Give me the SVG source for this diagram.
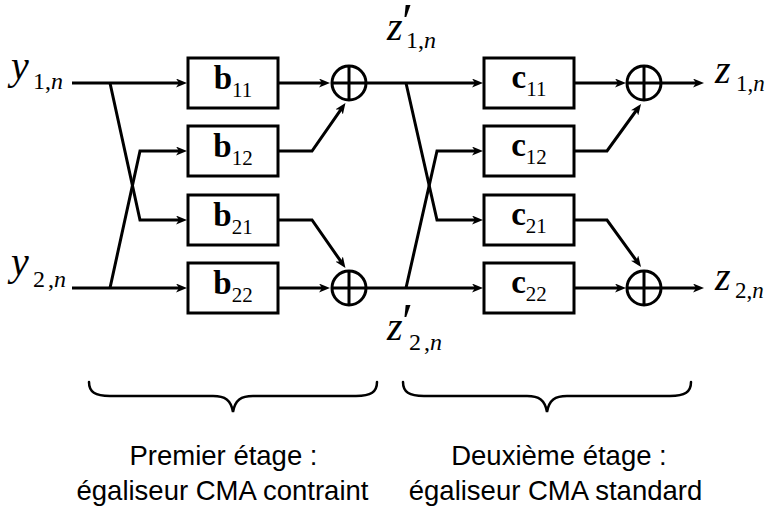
<svg xmlns="http://www.w3.org/2000/svg" width="768" height="510" viewBox="0 0 768 510">
<defs>
<style>
.ln{fill:none;stroke:#000;stroke-width:3;stroke-linejoin:miter}
.bx{fill:#fff;stroke:#000;stroke-width:3}
.sum{fill:none;stroke:#000;stroke-width:3}
.br{fill:none;stroke:#000;stroke-width:2.5;stroke-linecap:round}
.mi{font-family:"Liberation Serif","Times New Roman",serif;font-style:italic;font-size:40px;fill:#000}
.s{font-style:normal;font-size:24px}
.s2{font-style:normal;font-size:23px}
.it{font-style:italic}
.pr{font-family:"Liberation Serif","Times New Roman",serif;font-style:normal;font-size:50px;fill:#000}
.bl{font-family:"Liberation Serif","Times New Roman",serif;font-weight:bold;font-size:33px;fill:#000}
.bs{font-weight:normal;font-size:21px}
.cap{font-family:"Liberation Sans",Arial,sans-serif;font-size:27.5px;fill:#000;text-anchor:middle}
</style>
<marker id="ah" markerUnits="userSpaceOnUse" viewBox="0 0 12 9" markerWidth="12" markerHeight="9" refX="6" refY="4.5" orient="auto">
<path d="M0,0 L11,4.5 L0,9 L3,4.5 z" fill="#000"/>
</marker>
</defs>

<g id="connectors">
<path class="ln" marker-end="url(#ah)" d="M72,83 H182"/>
<path class="ln" marker-end="url(#ah)" d="M110,83 L140,220 H182"/>
<path class="ln" marker-end="url(#ah)" d="M72,288 H182"/>
<path class="ln" marker-end="url(#ah)" d="M110,288 L140,151 H182"/>
<path class="ln" marker-end="url(#ah)" d="M278,83 H325"/>
<path class="ln" marker-end="url(#ah)" d="M278,151 H312 L342.6,107.1"/>
<path class="ln" marker-end="url(#ah)" d="M278,220 H312 L342.6,263.9"/>
<path class="ln" marker-end="url(#ah)" d="M278,288 H325"/>
<path class="ln" marker-end="url(#ah)" d="M366,83 H478"/>
<path class="ln" marker-end="url(#ah)" d="M406,83 L437,220 H478"/>
<path class="ln" marker-end="url(#ah)" d="M366,288 H478"/>
<path class="ln" marker-end="url(#ah)" d="M406,288 L437,151 H478"/>
<path class="ln" marker-end="url(#ah)" d="M574,83 H621"/>
<path class="ln" marker-end="url(#ah)" d="M574,151 H607 L638.1,108"/>
<path class="ln" marker-end="url(#ah)" d="M574,220 H607 L638.1,263"/>
<path class="ln" marker-end="url(#ah)" d="M574,288 H621"/>
<path class="ln" marker-end="url(#ah)" d="M662,83 H699"/>
<path class="ln" marker-end="url(#ah)" d="M662,288 H699"/>
</g>

<g id="b11"><rect class="bx" x="188" y="58" width="90" height="50"/><text class="bl" x="233" y="89" text-anchor="middle">b<tspan class="bs" dy="7.5">11</tspan></text></g>
<g id="b12"><rect class="bx" x="188" y="126" width="90" height="50"/><text class="bl" x="233" y="157" text-anchor="middle">b<tspan class="bs" dy="7.5">12</tspan></text></g>
<g id="b21"><rect class="bx" x="188" y="195" width="90" height="50"/><text class="bl" x="233" y="226" text-anchor="middle">b<tspan class="bs" dy="7.5">21</tspan></text></g>
<g id="b22"><rect class="bx" x="188" y="263" width="90" height="50"/><text class="bl" x="233" y="294" text-anchor="middle">b<tspan class="bs" dy="7.5">22</tspan></text></g>

<g id="c11"><rect class="bx" x="484" y="58" width="90" height="50"/><text class="bl" x="529" y="88" text-anchor="middle">c<tspan class="bs" dy="7.5">11</tspan></text></g>
<g id="c12"><rect class="bx" x="484" y="126" width="90" height="50"/><text class="bl" x="529" y="156" text-anchor="middle">c<tspan class="bs" dy="7.5">12</tspan></text></g>
<g id="c21"><rect class="bx" x="484" y="195" width="90" height="50"/><text class="bl" x="529" y="225" text-anchor="middle">c<tspan class="bs" dy="7.5">21</tspan></text></g>
<g id="c22"><rect class="bx" x="484" y="263" width="90" height="50"/><text class="bl" x="529" y="293" text-anchor="middle">c<tspan class="bs" dy="7.5">22</tspan></text></g>

<g id="sum1"><circle class="sum" cx="349" cy="83" r="17"/><path class="sum" d="M332,83 H366 M349,66 V100"/></g>
<g id="sum2"><circle class="sum" cx="349" cy="288" r="17"/><path class="sum" d="M332,288 H366 M349,271 V305"/></g>
<g id="sum3"><circle class="sum" cx="644" cy="83" r="17"/><path class="sum" d="M627,83 H661 M644,66 V100"/></g>
<g id="sum4"><circle class="sum" cx="644" cy="288" r="17"/><path class="sum" d="M627,288 H661 M644,271 V305"/></g>

<g id="y1"><text class="mi" x="11" y="79">y<tspan class="s" x="33" y="89">1,<tspan class="it">n</tspan></tspan></text></g>
<g id="y2"><text class="mi" x="11" y="275">y<tspan class="s" x="33" y="287">2<tspan dx="3">,</tspan><tspan class="it">n</tspan></tspan></text></g>
<g id="zp1"><text class="mi" x="387" y="40">z<tspan class="s" x="406" y="48">1,<tspan class="it">n</tspan></tspan></text><text class="pr" x="402" y="38">′</text></g>
<g id="zp2"><text class="mi" x="387" y="340">z<tspan class="s" x="409" y="350">2<tspan dx="3">,</tspan><tspan class="it">n</tspan></tspan></text><text class="pr" x="402" y="338">′</text></g>
<g id="z1"><text class="mi" x="715" y="83">z<tspan class="s2" x="736" y="91">1,<tspan class="it">n</tspan></tspan></text></g>
<g id="z2"><text class="mi" x="715" y="290">z<tspan class="s2" x="735" y="298">2,<tspan class="it">n</tspan></tspan></text></g>

<g id="brace1"><path class="br" d="M89,382 C89,392 95,396 110,396 H213 C225,396 231,400 233,412 C235,400 241,396 253,396 H356 C371,396 377,392 377,382"/></g>
<g id="brace2"><path class="br" d="M403,382 C403,392 409,396 424,396 H527 C539,396 545,400 547,412 C549,400 555,396 567,396 H670 C685,396 691,392 691,382"/></g>

<g id="label1"><text class="cap" x="223.5" y="465">Premier étage :</text><text class="cap" x="222.5" y="500">égaliseur CMA contraint</text></g>
<g id="label2"><text class="cap" x="559" y="465">Deuxième étage :</text><text class="cap" x="555.5" y="500">égaliseur CMA standard</text></g>
</svg>
